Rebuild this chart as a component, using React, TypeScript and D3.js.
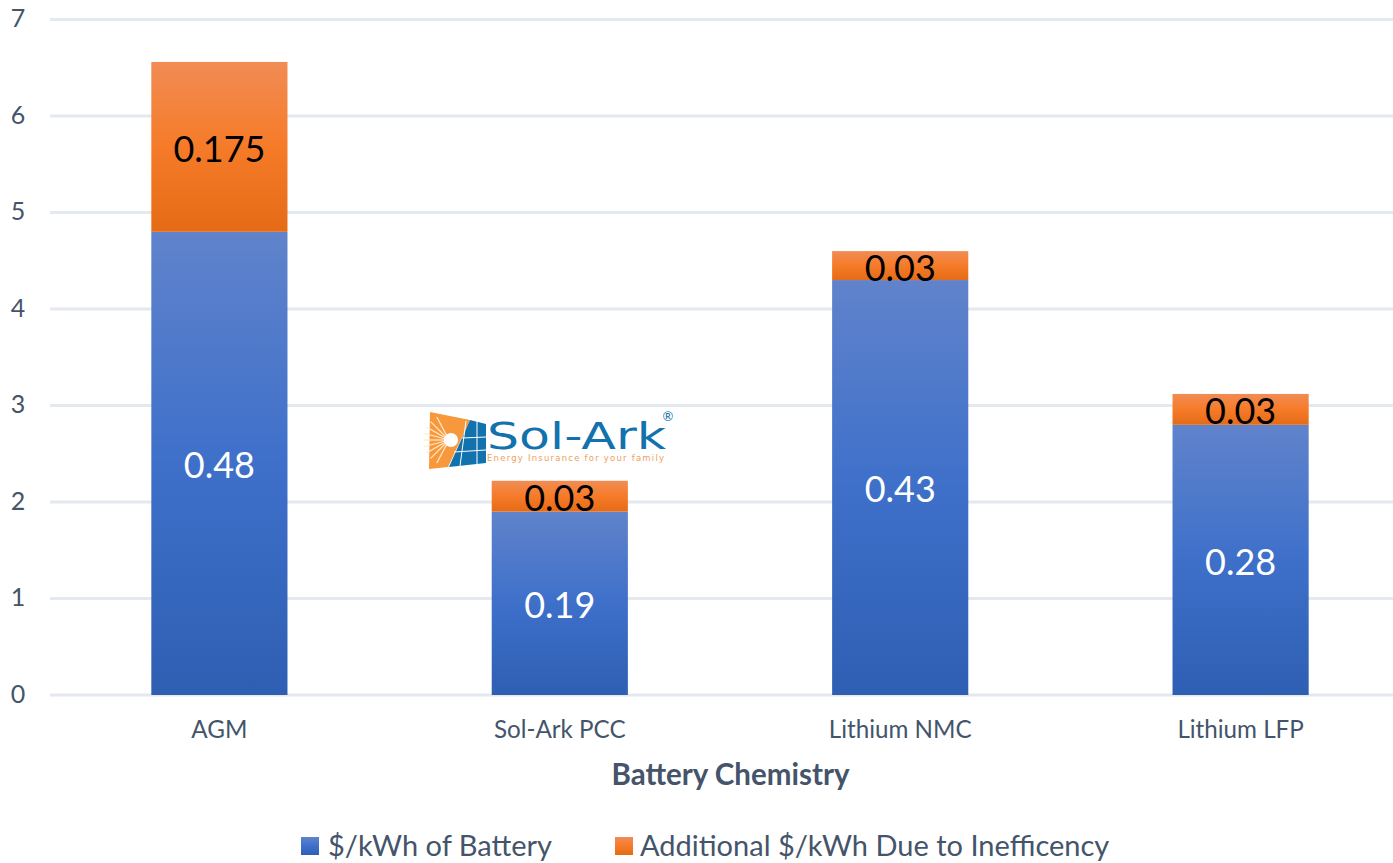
import React from "react";
import * as d3 from "d3";

const categories = ["AGM", "Sol-Ark PCC", "Lithium NMC", "Lithium LFP"];
const batteryCost = [4.8, 1.9, 4.3, 2.8];
const inefficiencyCost = [1.76, 0.32, 0.3, 0.32];
const batteryLabels = ["0.48", "0.19", "0.43", "0.28"];
const inefficiencyLabels = ["0.175", "0.03", "0.03", "0.03"];
const yTicks = [0, 1, 2, 3, 4, 5, 6, 7];
const seriesNames = ["$/kWh of Battery", "Additional $/kWh Due to Inefficency"];
const logoName = "Sol-Ark";
const logoTag = "Energy Insurance for your family";
const rays = [-62, -45, -30, -15, 0, 15, 30, 45, 62];

const W = 1393, H = 863;
const FONT = "Lato, Carlito, 'Open Sans', sans-serif";
const INK = "#44546a";

export default function App() {
  const x = d3.scaleBand<string>().domain(categories).range([49.2, 1410.8]).paddingInner(0.6).paddingOuter(0.3);
  const y = d3.scaleLinear().domain([0, 7]).range([695, 19.5]);
  const stack = d3.stack<number>().keys(["a", "b"]).value((i, k) => (k === "a" ? batteryCost[i] : inefficiencyCost[i]));
  const layers = stack(categories.map((_, i) => i));
  const fills = ["url(#blueGrad)", "url(#orangeGrad)"];
  const labels = [batteryLabels, inefficiencyLabels];
  const labelColors = ["#ffffff", "#000000"];

  return (
    <svg width={W} height={H} viewBox={`0 0 ${W} ${H}`}
      style={{ position: "absolute", left: 0, top: 0, background: "#fff", fontFamily: FONT }}>
      <defs>
        <linearGradient id="blueGrad" x1="0" y1="0" x2="0" y2="1">
          <stop offset="0" stopColor="#6083cb" />
          <stop offset="0.5" stopColor="#3e70ca" />
          <stop offset="1" stopColor="#2e5fb3" />
        </linearGradient>
        <linearGradient id="orangeGrad" x1="0" y1="0" x2="0" y2="1">
          <stop offset="0" stopColor="#f18c55" />
          <stop offset="0.5" stopColor="#f67b28" />
          <stop offset="1" stopColor="#e56b17" />
        </linearGradient>
      </defs>

      {yTicks.map((t) => (
        <g key={t}>
          <line x1={50} x2={W} y1={y(t)} y2={y(t)} stroke="#e4e8ef" strokeWidth={3} />
          <text x={18} y={y(t) - 1} dy="0.35em" textAnchor="middle" fontSize={25} fill={INK}>{t}</text>
        </g>
      ))}

      {layers.map((layer, s) =>
        layer.map((d, i) => (
          <rect key={`${s}-${i}`} x={x(categories[i])!} width={x.bandwidth()}
            y={y(d[1])} height={y(d[0]) - y(d[1])} fill={fills[s]} />
        ))
      )}
      {layers.map((layer, s) =>
        layer.map((d, i) => (
          <text key={`l${s}-${i}`} x={x(categories[i])! + x.bandwidth() / 2} y={(y(d[0]) + y(d[1])) / 2 + 2}
            dy="0.36em" textAnchor="middle" fontSize={36} fill={labelColors[s]}>{labels[s][i]}</text>
        ))
      )}

      {categories.map((c) => (
        <text key={c} x={x(c)! + x.bandwidth() / 2} y={738} textAnchor="middle" fontSize={24.2} fill={INK}>{c}</text>
      ))}
      <text x={730.5} y={785} textAnchor="middle" fontSize={29.5} fontWeight={700} fill={INK}>Battery Chemistry</text>

      <rect x={301} y={837} width={18} height={18} fill="url(#blueGrad)" />
      <text x={328} y={856} fontSize={29} fill={INK}>{seriesNames[0]}</text>
      <rect x={615} y={837} width={18} height={18} fill="url(#orangeGrad)" />
      <text x={640} y={856} fontSize={29} fill={INK}>{seriesNames[1]}</text>

      <g>
        <polygon points="430,412 470,420 448,467 429,469" fill="#f7993a" />
        {rays.map((a) => (
          <line key={a} x1={449} y1={440} x2={449 - 26 * Math.cos((a * Math.PI) / 180)} y2={440 + 26 * Math.sin((a * Math.PI) / 180)}
            stroke="#ffe9cf" strokeWidth={1.2} />
        ))}
        <circle cx={451} cy={440} r={7} fill="#fff" />
        <polygon points="470,420 486,424 486,463 449,467" fill="#1272ad" />
        {[[477, 421, 477, 465], [466, 421, 460, 466]].map((l, i) => (
          <line key={i} x1={l[0]} y1={l[1]} x2={l[2]} y2={l[3]} stroke="#fff" strokeWidth={1} />
        ))}
        <line x1={462} y1={438} x2={486} y2={437} stroke="#fff" strokeWidth={1} />
        <line x1={454} y1={452} x2={486} y2={450} stroke="#fff" strokeWidth={1} />
        <text x={487} y={449} fontSize={38} fontFamily="'DejaVu Sans', sans-serif"
          fill="#1272ad" textLength={179} lengthAdjust="spacingAndGlyphs">{logoName}</text>
        <text x={668} y={421} textAnchor="middle" fontSize={13} fill="#1272ad">®</text>
        <text x={487} y={461} fontSize={8.5} letterSpacing={1} fill="#f0a05a" textLength={178} fontFamily="'DejaVu Sans', sans-serif">{logoTag}</text>
      </g>
    </svg>
  );
}
